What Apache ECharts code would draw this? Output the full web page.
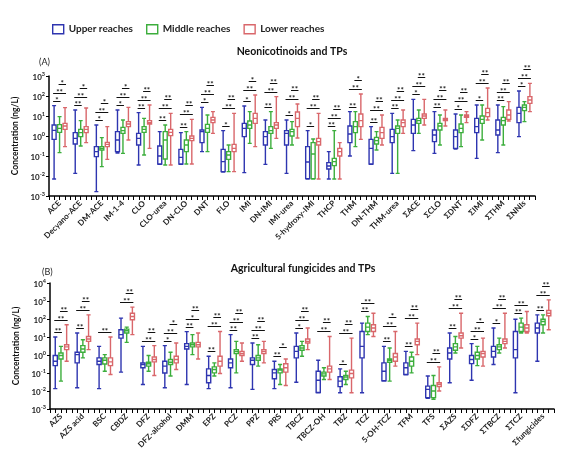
<!DOCTYPE html>
<html>
<head>
<meta charset="utf-8">
<script src="https://cdn.jsdelivr.net/npm/echarts@6.0.0/dist/echarts.min.js"></script>
<style>html,body{margin:0;padding:0;background:#fff;}#c{width:572px;height:461px;}</style>
</head>
<body>
<div id="c"></div>
<script>
// ---------------- DATA (ng/L) : [min, Q1, median, Q3, max] ----------------
const seriesNames = ['Upper reaches', 'Middle reaches', 'Lower reaches'];

const catsA = ['ACE','Decyano-ACE','DM-ACE','IM-1-4','CLO','CLO-urea','DN-CLO','DNT','FLO','IMI','DN-IMI','IMI-urea','5-hydroxy-IMI','THCP','THM','DN-THM','THM-urea','ΣACE','ΣCLO','ΣDNT','ΣIMI','ΣTHM','ΣNNIs'];
const upperA = [
 [0.0071,0.676,1.91,3.55,33.1],[0.0135,0.398,0.759,1.48,20.0],[0.00166,0.0933,0.166,0.295,3.55],[0.141,0.166,0.631,1.66,20.0],
 [0.0355,0.355,0.759,1.35,14.8],[0.038,0.0398,0.1,0.316,1.66],[0.038,0.0398,0.0851,0.214,1.48],[0.166,0.468,1.66,2.0,26.9],
 [0.0158,0.0166,0.0525,0.214,1.86],[0.0148,0.933,2.4,4.27,31.6],[0.038,0.355,0.933,1.66,6.31],[0.0135,0.355,1.35,1.86,6.31],
 [0.0071,0.0074,0.0501,0.295,1.86],[0.0071,0.0224,0.0316,0.0468,0.166],[0.1,0.468,1.26,3.16,16.6],[0.038,0.0398,0.24,0.676,2.95],
 [0.0135,0.468,0.933,2.14,13.5],[0.186,1.35,3.55,6.76,67.6],[0.135,0.525,1.12,2.0,16.6],[0.224,0.24,0.933,2.0,12.6],
 [0.0759,1.48,2.95,7.59,35.5],[0.148,1.12,2.0,6.31,35.5],[0.933,4.68,13.5,26.9,178]
];
const middleA = [
 [0.148,1.51,2.4,3.72,9.33],[0.316,0.933,1.48,2.14,5.89],[0.0295,0.2,0.24,0.295,0.832],[0.135,1.35,1.86,2.69,6.31],
 [0.112,1.51,2.14,2.95,7.59],[0.0355,0.0708,0.631,1.66,3.55],[0.0398,0.166,0.355,0.631,1.66],[0.166,1.51,2.4,3.8,11.2],
 [0.0166,0.0676,0.112,0.166,0.355],[0.427,2.4,3.55,5.62,16.6],[0.24,1.35,1.86,2.95,16.6],[0.355,1.0,1.66,2.14,5.25],
 [0.0071,0.0074,0.126,0.468,0.708],[0.0071,0.0331,0.0525,0.0759,1.86],[0.295,1.48,2.95,5.25,16.6],[0.2,0.398,0.589,0.851,1.66],
 [0.0135,1.35,2.4,3.16,6.31],[1.35,4.27,5.89,7.59,20.0],[0.355,2.0,3.16,4.27,11.2],[0.295,1.48,2.4,3.98,11.2],
 [0.631,4.27,6.76,10.0,35.5],[0.355,3.55,5.89,8.51,29.5],[5.25,18.6,26.9,35.5,52.5]
];
const lowerA = [
 [0.295,2.14,3.16,4.27,26.3],[0.468,1.48,2.14,2.95,25.1],[0.0676,0.295,0.38,0.479,2.95],[0.631,2.95,3.98,5.25,26.9],
 [0.24,3.98,4.68,5.89,35.5],[0.0355,1.05,1.51,2.14,13.5],[0.0398,0.589,0.759,1.0,6.76],[1.35,4.68,6.31,8.51,16.6],
 [0.0166,0.166,0.24,0.38,13.5],[0.295,4.27,7.59,13.5,112],[0.759,2.4,3.55,4.68,93.3],[0.794,2.95,7.59,15.8,39.8],
 [0.0071,0.355,0.525,0.759,13.5],[0.0071,0.1,0.166,0.24,0.468],[0.676,2.95,5.89,12.6,126],[0.355,0.759,1.48,2.69,11.2],
 [1.35,2.95,4.68,6.31,20.0],[3.55,7.59,10.0,12.6,67.6],[3.16,5.89,6.76,7.59,20.0],[4.68,8.51,10.0,11.2,16.6],
 [6.31,9.33,14.8,24.0,251],[5.62,6.76,11.2,20.0,52.5],[16.6,42.7,63.1,93.3,427]
];
// significance: upper vs middle, upper vs lower, middle vs lower
const sigA_UM = ['*','**','*','*','**','**','**','*','*','*','**','*','*','**','**','**','**','*','**','*','*','**','*'];
const sigA_UL = ['**','**','**','**','**','**','**','**','**','**','**','**','**','**','**','**','**','**','**','**','**','**','**'];
const sigA_ML = ['*','*','*','*','**','**','**','**','**','*','**','**','**','**','*','**','**','**','**','**','**','**','**'];

const catsB = ['AZS','AZS acid','BSC','CBDZ','DFZ','DFZ-alcohol','DMM','EPZ','PCZ','PPZ','PRS','TBCZ','TBCZ-OH','TBZ','TCZ','5-OH-TCZ','TFM','TFS','ΣAZS','ΣDFZ','ΣTBCZ','ΣTCZ','Σfungicides'];
const upperB = [
 [0.0135,0.257,0.447,0.933,10.0],[0.0151,0.363,1.05,1.41,16.6],[0.0135,0.295,0.447,0.692,3.02],[0.112,8.71,13.5,25.1,112],
 [0.0229,0.195,0.295,0.363,3.02],[0.0151,0.1,0.24,0.447,3.31],[0.0229,2.14,3.02,4.27,20.0],[0.0135,0.0288,0.0724,0.17,0.851],
 [0.0151,0.195,0.363,0.603,13.5],[0.0123,0.295,0.513,0.692,4.68],[0.0135,0.0479,0.102,0.155,0.447],[0.0309,0.692,1.58,3.02,16.6],
 [0.00794,0.00832,0.0398,0.126,0.513],[0.00794,0.0174,0.0355,0.0617,0.17],[0.00794,0.692,3.02,20.4,58.9],[0.0355,0.0372,0.126,0.363,3.02],
 [0.0794,0.0832,0.195,0.363,1.58],[0.00398,0.00427,0.0123,0.0186,0.0676],[0.0288,0.603,1.29,2.45,16.6],[0.0398,0.331,0.562,0.933,4.27],
 [0.295,0.776,1.58,3.02,31.6],[0.00794,0.692,2.0,20.4,97.7],[0.447,16.6,31.6,58.9,170]
];
const middleB = [
 [0.0355,0.603,0.933,1.29,3.02],[0.692,1.41,2.14,3.31,7.08],[0.126,0.316,0.513,0.692,1.05],[5.01,16.6,22.4,27.5,35.5],
 [0.126,0.24,0.324,0.398,0.933],[0.0676,0.295,0.398,0.562,1.41],[1.05,2.82,3.72,4.68,13.5],[0.0676,0.102,0.155,0.219,0.363],
 [0.102,1.2,1.58,2.0,5.75],[0.24,0.513,0.692,0.933,3.72],[0.0229,0.102,0.145,0.17,0.295],[0.851,1.82,2.45,3.31,5.75],
 [0.0437,0.0676,0.0891,0.112,0.195],[0.0229,0.0437,0.0589,0.0724,0.126],[13.5,20.4,35.5,58.9,138],[0.0355,0.398,0.513,0.603,2.45],
 [0.102,0.24,0.447,0.776,1.41],[0.00347,0.00427,0.01,0.0204,0.0724],[1.29,1.82,2.82,4.27,10.7],[0.257,0.603,0.933,1.41,3.02],
 [1.29,2.0,2.82,3.72,8.71],[16.6,20.4,35.5,58.9,112],[16.6,47.9,72.4,97.7,170]
];
const lowerB = [
 [0.447,2.0,2.82,3.72,47.9],[2.0,5.75,7.76,10.7,170],[0.0832,0.257,0.417,0.692,10.0],[13.5,91.2,138,209,457],
 [0.0724,0.417,0.562,0.776,3.31],[0.155,0.363,0.562,0.851,4.68],[0.603,2.82,3.72,5.01,16.6],[0.0933,0.24,0.447,0.851,20.4],
 [0.447,0.933,1.2,1.58,4.68],[0.363,1.2,1.58,2.0,5.75],[0.0204,0.112,0.195,0.324,0.603],[2.0,4.68,5.75,7.76,31.6],
 [0.0437,0.112,0.17,0.24,10.7],[0.00794,0.0537,0.0933,0.145,8.71],[10.7,20.4,31.6,47.9,209],[0.24,0.447,0.776,1.2,20.4],
 [1.05,3.72,5.75,7.76,58.9],[0.01,0.0174,0.0229,0.0288,0.219],[2.45,8.71,11.7,16.6,209],[0.24,0.776,1.2,1.58,8.71],
 [2.45,4.27,5.75,7.76,209],[16.6,20.4,31.6,47.9,263],[25.1,151,209,295,1150]
];
const sigB_UM = ['**','**','','','','*','**','**','**','**','**','*','','*','**','**','**','','**','*','*','**','**'];
const sigB_UL = ['**','**','**','**','**','**','*','**','**','**','','**','**','**','**','**','**','**','**','**','**','**','**'];
const sigB_ML = ['**','**','','**','**','*','**','**','**','**','*','**','**','**','','*','**','**','**','*','**','','**'];

// ---------------- STYLE ----------------
const colors = ['#2e35b0', '#3cae3c', '#d9676b'];
const FONT = 'Lato, "Liberation Sans", Arial, sans-serif';
const ticksPerCat = 4;

const chart = echarts.init(document.getElementById('c'), null, {renderer: 'canvas'});

function supLabel(v) {
  const e = Math.round(Math.log10(v));
  return '{b|10}{s|' + e + '}';
}

function makeXAxes(gridIndex, cats) {
  return [
    { type: 'category', gridIndex, data: cats, position: 'bottom',
      axisLine: { show: true, lineStyle: { color: '#000', width: 1.5 } },
      axisTick: { show: false },
      axisLabel: { interval: 0, rotate: 45, margin: 6, fontSize: 8, fontWeight: 'bold', color: '#222', fontFamily: FONT },
      splitLine: { show: false } },
    { type: 'category', gridIndex, position: 'bottom',
      data: new Array(cats.length * ticksPerCat).fill(''),
      axisLine: { show: false },
      axisTick: { show: true, interval: 0, length: 4, lineStyle: { color: '#000', width: 1 } },
      axisLabel: { show: false }, splitLine: { show: false } }
  ];
}

function makeYAxis(gridIndex, min, max) {
  return {
    type: 'log', logBase: 10, gridIndex, min, max,
    name: 'Concentration (ng/L)', nameLocation: 'middle', nameGap: 22,
    nameTextStyle: { fontSize: 8.5, fontWeight: 'bold', color: '#111', fontFamily: FONT },
    axisLine: { show: true, lineStyle: { color: '#000', width: 1.5 } },
    axisTick: { show: true, length: 3, lineStyle: { color: '#000', width: 1 } },
    minorTick: { show: false },
    splitLine: { show: false },
    axisLabel: { margin: 4, formatter: supLabel,
      rich: {
        b: { fontSize: 8, fontWeight: 'bold', color: '#222', fontFamily: FONT, lineHeight: 10, verticalAlign: 'bottom' },
        s: { fontSize: 5.5, fontWeight: 'bold', color: '#222', fontFamily: FONT, lineHeight: 10, verticalAlign: 'top' }
      } }
  };
}

function boxSeries(name, data, color, xi, yi) {
  return {
    name, type: 'boxplot', xAxisIndex: xi, yAxisIndex: yi, data,
    boxWidth: [2, 8],
    itemStyle: { color: '#ffffff', borderColor: color, borderWidth: 1.4 },
    emphasis: { disabled: true }, silent: true
  };
}

function sigSeries(xi, yi, up, mid, low, sUM, sUL, sML) {
  return {
    type: 'custom', xAxisIndex: xi, yAxisIndex: yi, silent: true, z: 5,
    encode: { x: 0, y: 1 },
    data: up.map((d, i) => [i, Math.max(up[i][4], mid[i][4], low[i][4])]),
    renderItem: function (params, api) {
      const i = api.value(0);
      const bw = api.size([1, 0])[0];
      const avail = bw * 0.8 - 2, gap = avail / 3 * 0.3, w = (avail - 2 * gap) / 3, step = w + gap;
      const pB = api.coord([i, up[i][4]]), pG = api.coord([i, mid[i][4]]), pR = api.coord([i, low[i][4]]);
      const cx = pG[0];
      const xs = [cx - step, cx, cx + step];
      const yB = pB[1], yG = pG[1], yR = pR[1];
      const children = [];
      function add(x1, x2, y, txt) {
        const yy = Math.round(y) + 0.5;
        children.push({ type: 'line', shape: { x1: x1, y1: yy, x2: x2, y2: yy }, style: { stroke: '#111', lineWidth: 1 } });
        children.push({ type: 'text', x: (x1 + x2) / 2, y: yy + 3,
          style: { text: txt, font: 'bold 8px ' + FONT, fill: '#111', align: 'center', verticalAlign: 'bottom' } });
      }
      let cur = Infinity;
      if (sUM[i]) { const y = Math.min(yB, yG) - 5; add(xs[0] - 1, xs[1] + 1, y, sUM[i]); cur = y; }
      if (sUL[i]) { const y = Math.min(cur - 8, yB - 5, yG - 5, yR - 5); add(xs[0] - 1, xs[2] + 1, y, sUL[i]); cur = y; }
      if (sML[i]) { const y = Math.min(cur - 9, yG - 5, yR - 5); add(xs[1] - 1, xs[2] + 1, y, sML[i]); }
      return { type: 'group', children };
    }
  };
}

const option = {
  backgroundColor: '#fff',
  animation: false,
  legend: {
    left: 47, top: 19, itemWidth: 11, itemHeight: 9, itemGap: 13, icon: 'rect',
    textStyle: { fontSize: 10, fontWeight: 'bold', color: '#222', fontFamily: FONT },
    data: seriesNames.map((n, k) => ({ name: n, itemStyle: { color: '#fff', borderColor: colors[k], borderWidth: 1.4 } })),
    selectedMode: false
  },
  grid: [
    { left: 49, top: 76, width: 486, height: 120, containLabel: false, outerBoundsMode: 'none' },
    { left: 50, top: 283, width: 504, height: 126, containLabel: false, outerBoundsMode: 'none' }
  ],
  xAxis: [...makeXAxes(0, catsA), ...makeXAxes(1, catsB)],
  yAxis: [makeYAxis(0, 0.001, 1000), makeYAxis(1, 0.001, 10000)],
  graphic: [
    { type: 'text', x: 292, y: 52, style: { text: 'Neonicotinoids and TPs', font: 'bold 10.5px ' + FONT, fill: '#111', align: 'center', verticalAlign: 'middle' } },
    { type: 'text', x: 39, y: 62, style: { text: '(A)', font: '9px ' + FONT, fill: '#222', align: 'left', verticalAlign: 'middle' } },
    { type: 'text', x: 303, y: 269, style: { text: 'Agricultural fungicides and TPs', font: 'bold 10.5px ' + FONT, fill: '#111', align: 'center', verticalAlign: 'middle' } },
    { type: 'text', x: 42, y: 272, style: { text: '(B)', font: '9px ' + FONT, fill: '#222', align: 'left', verticalAlign: 'middle' } }
  ],
  series: [
    boxSeries(seriesNames[0], upperA, colors[0], 0, 0),
    boxSeries(seriesNames[1], middleA, colors[1], 0, 0),
    boxSeries(seriesNames[2], lowerA, colors[2], 0, 0),
    sigSeries(0, 0, upperA, middleA, lowerA, sigA_UM, sigA_UL, sigA_ML),
    boxSeries(seriesNames[0], upperB, colors[0], 2, 1),
    boxSeries(seriesNames[1], middleB, colors[1], 2, 1),
    boxSeries(seriesNames[2], lowerB, colors[2], 2, 1),
    sigSeries(2, 1, upperB, middleB, lowerB, sigB_UM, sigB_UL, sigB_ML)
  ]
};
chart.setOption(option);
</script>
</body>
</html>
